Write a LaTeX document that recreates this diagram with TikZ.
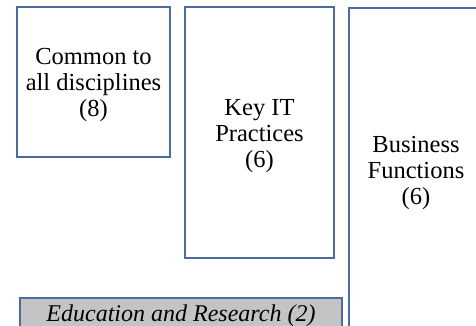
\documentclass[tikz,border=0pt]{standalone}
\usepackage{fontspec}
\setmainfont{Liberation Serif}
\usepackage{tikz}
\usepackage{color}
\definecolor{boxblue}{RGB}{74,108,158}
\definecolor{bargray}{RGB}{196,196,198}

\begin{document}
\begin{tikzpicture}[x=1pt,y=1pt]
\tikzstyle{every node}+=[inner sep=0pt]
\tikzstyle{area}=[draw=boxblue,line width=1.4pt,fill=white]
\tikzstyle{areatext}=[align=center,font=\fontsize{24.5}{26}\selectfont]
\useasboundingbox (0,0) rectangle (476,-326);
\clip (0,0) rectangle (476,-326);
\draw (93.5,-82) node [area,minimum width=153pt,minimum height=150pt] (common) {};
\draw ([yshift=-3pt]common.center) node [areatext] (commontext) {Common to\\all disciplines\\(8)};
\draw (259.5,-132.5) node [area,minimum width=149pt,minimum height=251pt] (keyit) {};
\draw ([yshift=-4pt]keyit.center) node [areatext] (keyittext) {Key IT\\Practices\\(6)};
\draw (416,-170) node [area,minimum width=134pt,minimum height=324pt] (business) {};
\draw ([yshift=-3pt]business.center) node [areatext] (businesstext) {Business\\Functions\\(6)};
\draw (181,-314) node [area,fill=bargray,minimum width=322pt,minimum height=32pt] (edu) {};
\draw ([yshift=-2pt]edu.center) node [areatext,font=\fontsize{24}{26}\selectfont\itshape] (edutext) {Education and Research (2)};
\end{tikzpicture}
\end{document}
